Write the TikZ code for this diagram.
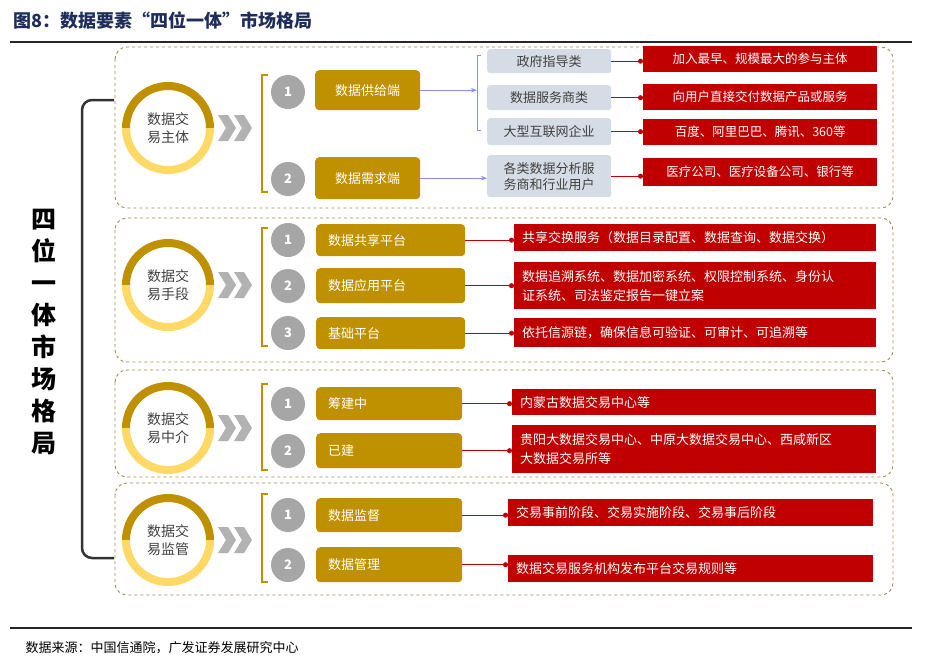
\documentclass[tikz,border=0pt]{standalone}
\usepackage{fontspec}
\setmainfont{Noto Sans CJK SC}
\usetikzlibrary{arrows.meta}
\definecolor{gold}{HTML}{BF9000}
\definecolor{lgold}{HTML}{FFD966}
\definecolor{dred}{HTML}{C00000}
\definecolor{gbox}{HTML}{D6DCE5}
\definecolor{navy}{HTML}{1F2D5A}
\definecolor{olive}{HTML}{A08A50}
\begin{document}
\begin{tikzpicture}[x=1pt,y=-1pt,
  sect/.style={draw=olive,dashed,rounded corners=12pt,line width=0.9pt},
  gbx/.style={fill=gold,rounded corners=4pt,text=white,font=\fontsize{13}{15}\selectfont,anchor=north west,inner sep=0pt},
  gbxl/.style={gbx,align=left,text width=#1,inner xsep=12pt},
  rbx/.style={fill=dred,text=white,font=\fontsize{13}{19}\selectfont,anchor=north west,inner xsep=8pt,inner ysep=0pt,align=left,text width=#1},
  rbxs/.style={rbx=#1,font=\fontsize{12.5}{15}\selectfont,align=center},
  graybx/.style={fill=gbox,rounded corners=3pt,text=black!75,font=\fontsize{13}{16}\selectfont,anchor=north west,inner sep=0pt,align=center},
  num/.style={circle,fill=black!35,text=white,minimum size=34pt,inner sep=0pt,font=\bfseries\fontsize{13}{13}\selectfont},
  rl/.style={dred,line width=1pt,-{Circle[length=5pt]}},
  bl/.style={blue!45,line width=1pt,-{Stealth[length=6pt]}}]
\useasboundingbox (0,0) rectangle (926,670);
\node[anchor=west,text=navy,font=\bfseries\fontsize{18}{20}\selectfont] (title) at (10,21) {图8：数据要素“四位一体”市场格局};
\draw[line width=1.3pt,black!85] (10,42) -- (912,42);
\draw[line width=1.3pt,black!85] (10,628) -- (912,628);
\node[anchor=west,font=\fontsize{13}{15}\selectfont] (src) at (22,648) {数据来源：中国信通院，广发证券发展研究中心};
\node[font=\bfseries\fontsize{25}{32}\selectfont,align=center] (main) at (44,332) {四\\位\\一\\体\\市\\场\\格\\局};
\draw[line width=2.5pt,black!80,rounded corners=10pt] (114,100) -- (82,100) -- (82,558) -- (114,558);
\draw[sect] (115,47) rectangle (893,208);
\draw[sect] (115,218) rectangle (893,362);
\draw[sect] (115,370) rectangle (893,477);
\draw[sect] (115,483) rectangle (893,595);
\foreach \y/\t [count=\i] in {128/{数据交\\易主体},285/{数据交\\易手段},428/{数据交\\易中介},540/{数据交\\易监管}}{
  \fill[gold] (168,\y) ++(-46,0) arc[start angle=180,end angle=360,radius=46] -- ++(-8,0) arc[start angle=360,end angle=180,radius=38] -- cycle;
  \fill[lgold] (168,\y) ++(-46,0) arc[start angle=180,end angle=0,radius=46] -- ++(-8,0) arc[start angle=0,end angle=180,radius=38] -- cycle;
  \node[align=center,font=\fontsize{14}{18}\selectfont,text=black!75] (c\i) at (168,\y) {\t};
  \fill[black!30] (218,\y-13) -- (228,\y-13) -- (236,\y) -- (228,\y+13) -- (218,\y+13) -- (226,\y) -- cycle;
  \fill[black!30] (234,\y-13) -- (244,\y-13) -- (252,\y) -- (244,\y+13) -- (234,\y+13) -- (242,\y) -- cycle;
}
\draw[gold,line width=2pt] (268,75) -- (262,75) -- (262,192) -- (268,192);
\draw[gold,line width=2pt] (268,228) -- (262,228) -- (262,346) -- (268,346);
\draw[gold,line width=2pt] (268,384) -- (262,384) -- (262,470) -- (268,470);
\draw[gold,line width=2pt] (268,494) -- (262,494) -- (262,582) -- (268,582);
% section 1
\node[num] (n11) at (288,92) {1};
\node[num] (n12) at (288,179) {2};
\node[gbx,minimum width=105pt,minimum height=40pt] (g11) at (315,70) {数据供给端};
\node[gbx,minimum width=105pt,minimum height=42pt] (g12) at (315,157) {数据需求端};
\draw[blue!45,line width=1pt] (481,55) -- (477,55) -- (477,130) -- (481,130);
\coordinate (br) at (477,90);
\draw[bl] (g11.east) -- (g11.east -| br);
\node[graybx,minimum width=124pt,minimum height=24pt] (s1) at (487,49) {政府指导类};
\node[graybx,minimum width=124pt,minimum height=25pt] (s2) at (487,85) {数据服务商类};
\node[graybx,minimum width=124pt,minimum height=27pt] (s3) at (487,118) {大型互联网企业};
\node[graybx,minimum width=124pt,minimum height=42pt,text width=124pt] (s4) at (487,155) {各类数据分析服\\务商和行业用户};
\draw[bl] (g12.east) -- (g12.east -| s4.west);
\node[rbxs=218pt,minimum height=26pt] (r1) at (643,46) {加入最早、规模最大的参与主体};
\node[rbxs=218pt,minimum height=26pt] (r2) at (643,84) {向用户直接交付数据产品或服务};
\node[rbxs=218pt,minimum height=26pt] (r3) at (643,119) {百度、阿里巴巴、腾讯、360等};
\node[rbxs=218pt,minimum height=28pt] (r4) at (643,158) {医疗公司、医疗设备公司、银行等};
\foreach \a/\b in {s1/r1,s2/r2,s3/r3,s4/r4} \draw[rl] (\a.east) -- (\a.east -| \b.west);
% section 2
\node[num] (n21) at (288,240) {1};
\node[num] (n22) at (288,286) {2};
\node[num] (n23) at (288,333) {3};
\node[gbxl=125pt,minimum height=32pt] (g21) at (316,224) {数据共享平台};
\node[gbxl=125pt,minimum height=35pt] (g22) at (316,268) {数据应用平台};
\node[gbxl=125pt,minimum height=32pt] (g23) at (316,317) {基础平台};
\node[rbx=346pt,minimum height=27pt] (r21) at (514,224) {共享交换服务（数据目录配置、数据查询、数据交换）};
\node[rbx=346pt,minimum height=47pt] (r22) at (514,262) {数据追溯系统、数据加密系统、权限控制系统、身份认\\证系统、司法鉴定报告一键立案};
\node[rbx=346pt,minimum height=29pt] (r23) at (514,318) {依托信源链，确保信息可验证、可审计、可追溯等};
\foreach \a/\b in {g21/r21,g22/r22,g23/r23} \draw[rl] (\a.east) -- (\a.east -| \b.west);
% section 3
\node[num] (n31) at (288,404) {1};
\node[num] (n32) at (288,451) {2};
\node[gbxl=122pt,minimum height=33pt] (g31) at (316,387) {筹建中};
\node[gbxl=122pt,minimum height=35pt] (g32) at (316,433) {已建};
\node[rbx=348pt,minimum height=26pt] (r31) at (512,389) {内蒙古数据交易中心等};
\node[rbx=348pt,minimum height=48pt] (r32) at (512,425) {贵阳大数据交易中心、中原大数据交易中心、西咸新区\\大数据交易所等};
\foreach \a/\b in {g31/r31,g32/r32} \draw[rl] (\a.east) -- (\a.east -| \b.west);
% section 4
\node[num] (n41) at (288,515) {1};
\node[num] (n42) at (288,565) {2};
\node[gbxl=122pt,minimum height=34pt] (g41) at (316,498) {数据监督};
\node[gbxl=122pt,minimum height=35pt] (g42) at (316,547) {数据管理};
\node[rbx=349pt,minimum height=27pt] (r41) at (508,499) {交易事前阶段、交易实施阶段、交易事后阶段};
\node[rbx=349pt,minimum height=27pt] (r42) at (508,555) {数据交易服务机构发布平台交易规则等};
\foreach \a/\b in {g41/r41,g42/r42} \draw[rl] (\a.east) -- (\a.east -| \b.west);
\end{tikzpicture}
\end{document}
